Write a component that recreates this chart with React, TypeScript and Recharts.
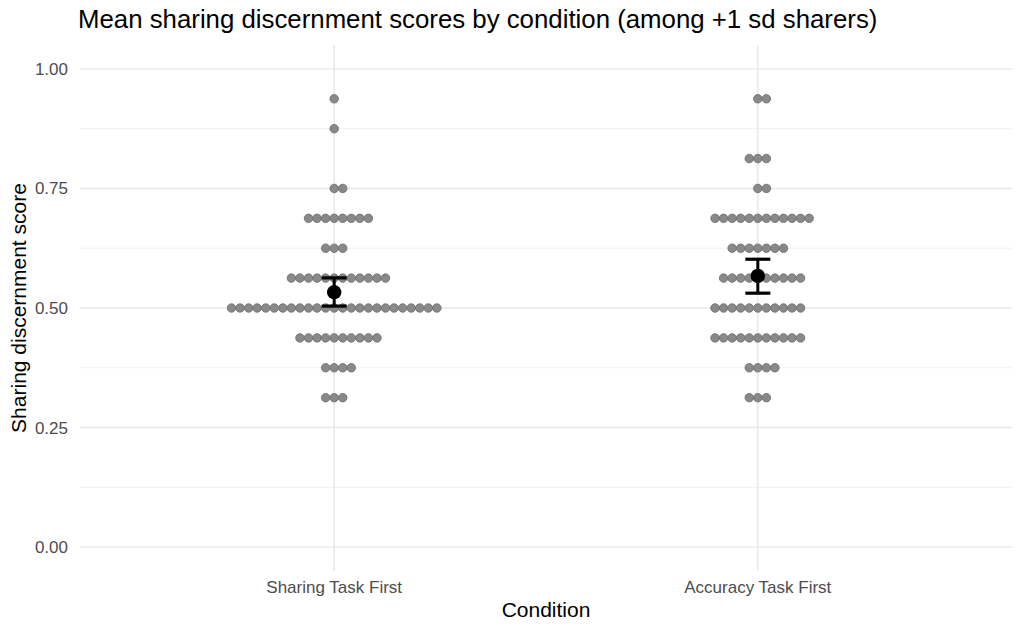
import React from 'react';
import {
  ScatterChart,
  Scatter,
  XAxis,
  YAxis,
  CartesianGrid,
} from 'recharts';

// discrete conditions (placed at x = 1, 2)
const conditions = ['Sharing Task First', 'Accuracy Task First'];

// dot-plot bins: score level and number of respondents in each bin
const binScores = [0.3125, 0.375, 0.4375, 0.5, 0.5625, 0.625, 0.6875, 0.75, 0.8125, 0.875, 0.9375];
const sharingCounts = [3, 4, 10, 25, 12, 3, 8, 2, 0, 1, 1];
const accuracyCounts = [3, 4, 11, 11, 10, 7, 12, 2, 3, 0, 2];

// means and 95% CI
const means = [0.533, 0.567];
const ciLow = [0.504, 0.531];
const ciHigh = [0.563, 0.602];

const yTicks = [0, 0.25, 0.5, 0.75, 1];
const yMinor = [0.125, 0.375, 0.625, 0.875];
const xTicks = [1, 2];

// horizontal step between stacked dots, in x units
const DOT_STEP = 0.0202;

function buildDots(counts: number[], xc: number) {
  const out: { x: number; y: number }[] = [];
  counts.forEach((n, i) => {
    const lo = -Math.floor((n - 1) / 2);
    for (let k = 0; k < n; k++) {
      out.push({ x: xc + (lo + k) * DOT_STEP, y: binScores[i] });
    }
  });
  return out;
}

const sharingDots = buildDots(sharingCounts, 1);
const accuracyDots = buildDots(accuracyCounts, 2);
const meanData = means.map((m, i) => ({ x: i + 1, y: m }));
const ciData = means.map((_, i) => [
  { x: i + 1, y: ciLow[i] },
  { x: i + 1, y: ciHigh[i] },
]);

const FONT = '"Liberation Sans", Arial, Helvetica, sans-serif';

const GrayDot = (props: any) => (
  <circle cx={props.cx} cy={props.cy} r={4.25} fill="#898989" stroke="#6a6a6a" strokeWidth={0.8} />
);

const MeanDot = (props: any) => <circle cx={props.cx} cy={props.cy} r={7.2} fill="#000" />;

const Cap = (props: any) => (
  <line x1={props.cx - 12.5} x2={props.cx + 12.5} y1={props.cy} y2={props.cy} stroke="#000" strokeWidth={3.2} />
);

const scaleOf = (axis: any) => (v: number) => {
  const s = axis && axis.scale;
  if (typeof s === 'function') return s(v);
  if (s && typeof s.map === 'function') return s.map(v);
  return 0;
};

export default function App() {
  return (
    <div style={{ position: 'absolute', left: 0, top: 0, width: 1024, height: 633, background: '#fff', fontFamily: FONT }}>
      <div style={{ position: 'absolute', left: 78, top: 5, fontSize: 25.8, color: '#000', whiteSpace: 'nowrap' }}>
        Mean sharing discernment scores by condition (among +1 sd sharers)
      </div>
      <div
        style={{
          position: 'absolute',
          left: 19,
          top: 308,
          fontSize: 21,
          color: '#000',
          whiteSpace: 'nowrap',
          transform: 'translate(-50%, -50%) rotate(-90deg)',
        }}
      >
        Sharing discernment score
      </div>
      <div
        style={{
          position: 'absolute',
          left: 546,
          top: 610,
          fontSize: 21,
          color: '#000',
          whiteSpace: 'nowrap',
          transform: 'translate(-50%, -50%)',
        }}
      >
        Condition
      </div>
      <ScatterChart width={1024} height={633} margin={{ top: 45, right: 12, bottom: 0, left: 0 }}>
        <CartesianGrid
          stroke="#ebebeb"
          strokeWidth={0.7}
          vertical={false}
          horizontalCoordinatesGenerator={({ yAxis }: any) => yMinor.map(scaleOf(yAxis))}
        />
        <CartesianGrid
          stroke="#e8e8e8"
          strokeWidth={1.4}
          horizontalCoordinatesGenerator={({ yAxis }: any) => yTicks.map(scaleOf(yAxis))}
          verticalCoordinatesGenerator={({ xAxis }: any) => xTicks.map(scaleOf(xAxis))}
        />
        <XAxis
          type="number"
          dataKey="x"
          domain={[0.4, 2.6]}
          ticks={xTicks}
          tickFormatter={(v: number) => conditions[v - 1]}
          axisLine={false}
          tickLine={false}
          height={62}
          tickMargin={4}
          tick={{ fill: '#4d4d4d', fontSize: 17, fontFamily: FONT }}
          allowDataOverflow
        />
        <YAxis
          type="number"
          dataKey="y"
          domain={[-0.05, 1.05]}
          ticks={yTicks}
          tickFormatter={(v: number) => v.toFixed(2)}
          axisLine={false}
          tickLine={false}
          width={80}
          tickMargin={6}
          tick={{ fill: '#4d4d4d', fontSize: 17, fontFamily: FONT }}
          allowDataOverflow
        />
        <Scatter data={sharingDots} shape={GrayDot} isAnimationActive={false} />
        <Scatter data={accuracyDots} shape={GrayDot} isAnimationActive={false} />
        {ciData.map((d, i) => (
          <Scatter
            key={`ci${i}`}
            data={d}
            shape={Cap}
            line={{ stroke: '#000', strokeWidth: 3 }}
            isAnimationActive={false}
          />
        ))}
        <Scatter data={meanData} shape={MeanDot} isAnimationActive={false} />
      </ScatterChart>
    </div>
  );
}
